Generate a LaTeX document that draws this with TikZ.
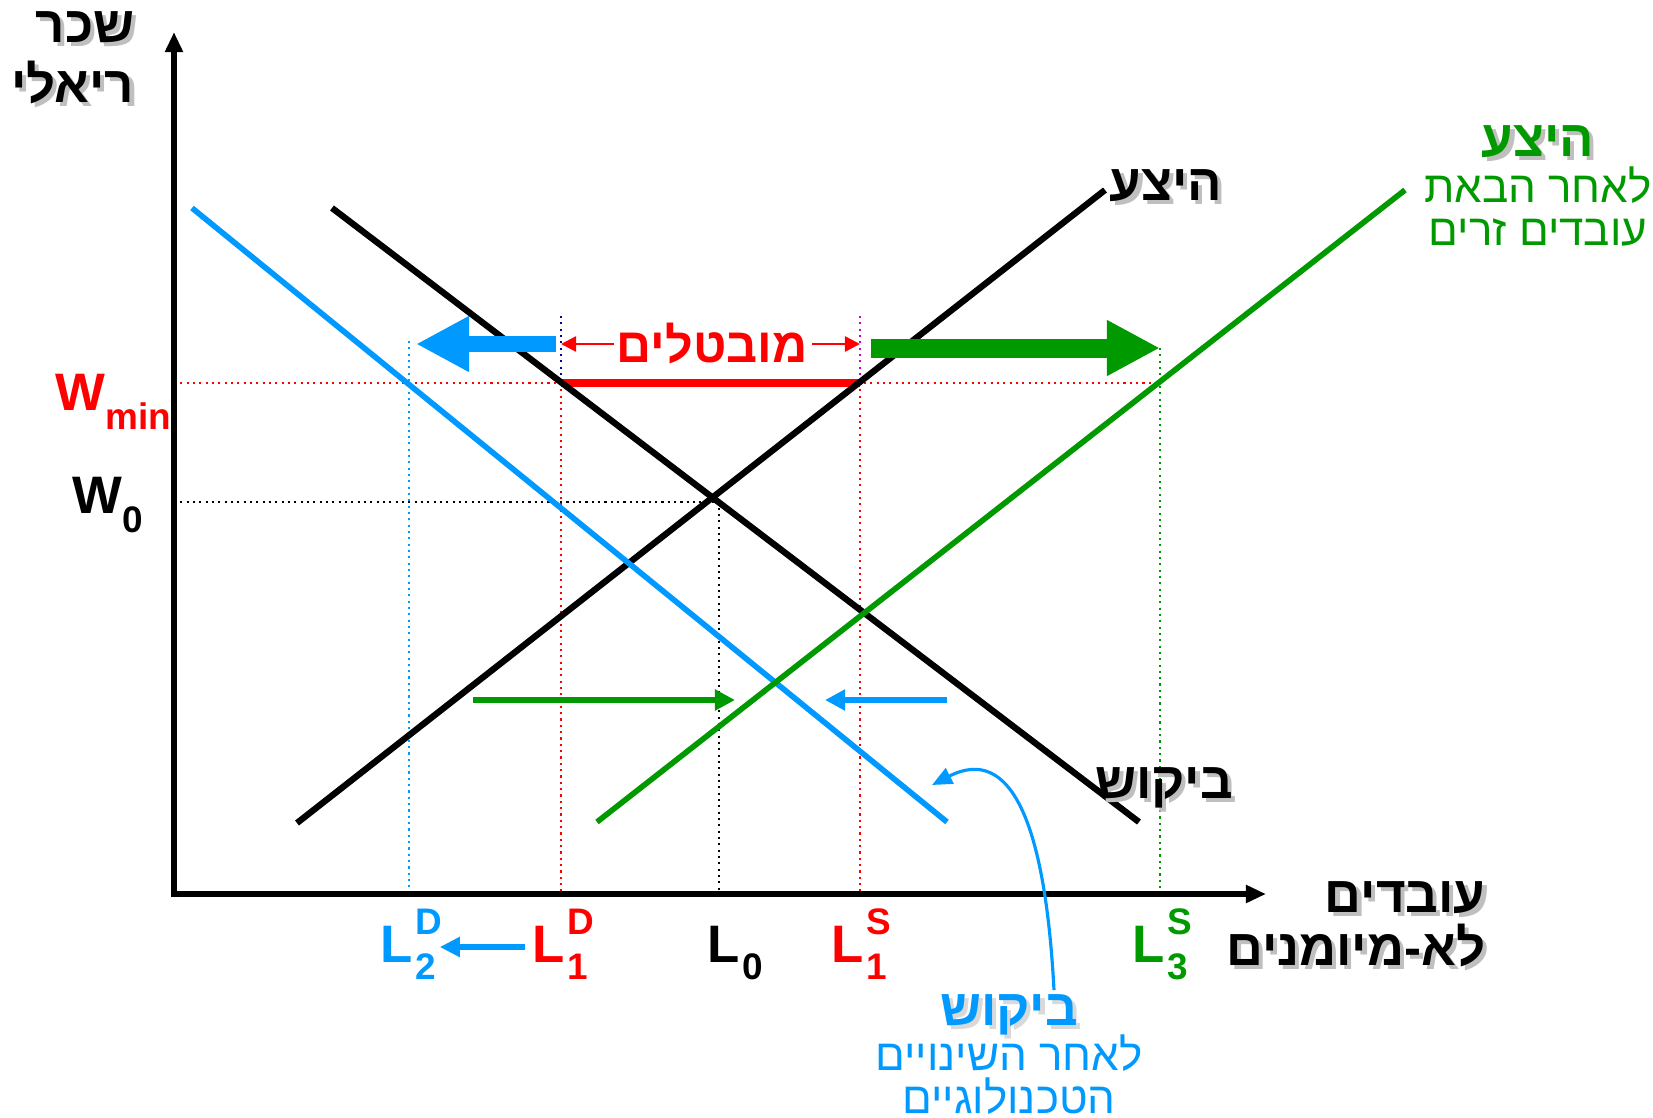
\documentclass[tikz,border=0pt]{standalone}
\usepackage{fontspec}
\setmainfont{Liberation Sans}
\newfontfamily\hebfont[Script=Hebrew]{Liberation Sans}
\TeXXeTstate=1
\usetikzlibrary{arrows.meta, positioning}

\definecolor{dblue}{RGB}{0,153,255}
\definecolor{dgreen}{RGB}{0,153,0}
\definecolor{dred}{RGB}{255,0,0}
\definecolor{dnavy}{RGB}{0,0,160}
\definecolor{dpurple}{RGB}{200,0,200}

% hebrew text with a soft drop shadow
\newcommand\shd[2][gray!50]{\leavevmode\rlap{\kern1.2pt\raisebox{-1.2pt}{\textcolor{#1}{\beginR #2\endR}}}\beginR #2\endR}
\newcommand\rtl[1]{\beginR #1\endR}
\newcommand\subsz{\fontsize{10.5}{12}\selectfont\bfseries}
\newcommand\Lab[2]{L\kern0.6pt\rlap{\raisebox{7.8pt}{\subsz #2}}\raisebox{-5pt}{\subsz #1}}

\begin{document}
\begin{tikzpicture}[x=0.01cm, y=-0.01cm,
  curve/.style={line width=1.8pt},
  guide/.style={line width=0.6pt, dash pattern=on 0.6pt off 1.2pt},
  ttl/.style={font=\hebfont\fontsize{14.5}{17}\selectfont\bfseries, inner sep=0pt, anchor=base},
  sub/.style={font=\hebfont\fontsize{12.5}{14}\selectfont, inner sep=0pt, anchor=base},
  lbl/.style={font=\fontsize{15}{18}\selectfont\bfseries, inner sep=0pt, anchor=base west},
  fatarr/.style={-{Triangle[length=0.53cm, width=0.52cm]}},
  midarr/.style={line width=1.5pt, -{Triangle[length=0.2cm, width=0.2cm]}},
  smallarr/.style={line width=0.7pt, -{Triangle[length=0.15cm, width=0.15cm]}}
]
\useasboundingbox (0,0) rectangle (1653,1117);

% axes
\coordinate (O) at (174,894);
\coordinate (ytop) at (174,32);
\coordinate (xend) at (1266,894);

% key points
\coordinate (E) at (719,502);
\coordinate (wminA) at (174,383);
\coordinate (w0A) at (174,502);
\coordinate (l2top) at (409,341);
\coordinate (l2bot) at (409,894);
\coordinate (l1dtop) at (561,316);
\coordinate (l1dmid) at (561,383);
\coordinate (l1dbot) at (561,894);
\coordinate (l1stop) at (860,316);
\coordinate (l1smid) at (860,383);
\coordinate (l1sbot) at (860,894);
\coordinate (l3top) at (1160,348);
\coordinate (l3mid) at (1160,383);
\coordinate (l3bot) at (1160,894);
\coordinate (l0bot) at (719,894);

% dotted guides
\draw[guide, dred] (wminA) -- (l3mid);
\draw[guide] (w0A) -- (E) -- (l0bot);
\draw[guide, dblue] (l2top) -- (l2bot);
\draw[guide, dnavy] (l1dtop) -- (l1dmid);
\draw[guide, dred] (l1dmid) -- (l1dbot);
\draw[guide, dpurple] (l1stop) -- (l1smid);
\draw[guide, dred] (l1smid) -- (l1sbot);
\draw[guide, dgreen] (l3top) -- (l3bot);
\draw[dred, line width=2.4pt] (l1dmid) -- (l1smid);

% curves
\coordinate (s0a) at (297,823);  \coordinate (s0b) at (1105,190);
\coordinate (d0a) at (332,208);  \coordinate (d0b) at (1139,822);
\coordinate (d2a) at (192,208);  \coordinate (d2b) at (947,822);
\coordinate (s3a) at (597,822);  \coordinate (s3b) at (1405,190);
\draw[curve] (s0a) -- (s0b);
\draw[curve] (d0a) -- (d0b);
\draw[curve, dblue, line width=1.6pt] (d2a) -- (d2b);
\draw[curve, dgreen, line width=1.6pt] (s3a) -- (s3b);

\draw[line width=1.8pt, -{Triangle[length=0.2cm, width=0.17cm]}] (O) -- (ytop);
\draw[line width=1.8pt, -{Triangle[length=0.2cm, width=0.17cm]}] ([xshift=-0.9pt]O) -- (xend);

% shift arrows
\coordinate (bA) at (556,344);  \coordinate (bB) at (416,344);
\coordinate (gA) at (871,348);  \coordinate (gB) at (1160,348);
\draw[fatarr, dblue, line width=4.8pt] (bA) -- (bB);
\draw[fatarr, dgreen, line width=5.4pt] (gA) -- (gB);

\node[ttl, dred, font=\hebfont\fontsize{13.8}{17}\selectfont\bfseries] (unemp) at (712,362) {\rtl{מובטלים}};
\coordinate (uL) at (614,344); \coordinate (uR) at (812,344);
\draw[smallarr, dred] (uL) -- (l1dtop |- uL);
\draw[smallarr, dred] (uR) -- (l1stop |- uR);

\coordinate (mgA) at (473,700); \coordinate (mgB) at (735,700);
\coordinate (mbA) at (947,700); \coordinate (mbB) at (825,700);
\draw[midarr, dgreen] (mgA) -- (mgB);
\draw[midarr, dblue] (mbA) -- (mbB);

% axis labels
\node[ttl, anchor=base east] (wage1) at (135,42) {\shd{שכר}};
\node[ttl, anchor=base east] (wage2) at (135,102) {\shd{ריאלי}};
\node[ttl, anchor=base east] (work1) at (1486,912) {\shd{עובדים}};
\node[ttl, anchor=base east] (work2) at (1486,965) {\shd{לא-מיומנים}};

\node[lbl, dred] (wmin) at (55,410) {W\raisebox{-5.5pt}{\subsz min}};
\node[lbl] (w0) at (72,513) {W\raisebox{-5.5pt}{\subsz 0}};

\node[lbl, dblue] (l2d) at (380,962) {\Lab{2}{D}};
\node[lbl, dred] (l1d) at (532,962) {\Lab{1}{D}};
\node[lbl] (l0) at (707,962) {L\kern0.6pt\raisebox{-5pt}{\subsz 0}};
\node[lbl, dred] (l1s) at (831,962) {\Lab{1}{S}};
\node[lbl, dgreen] (l3s) at (1132,962) {\Lab{3}{S}};
\draw[dblue, line width=1.6pt, -{Triangle[length=0.2cm, width=0.19cm]}] ([xshift=-2pt]l1d.west |- 0,947) -- ([xshift=1pt]l2d.east |- 0,947);

% curve names
\node[ttl] (sup0) at (1166,200) {\shd{היצע}};
\node[ttl] (dem0) at (1164,798) {\shd{ביקוש}};
\node[ttl, dgreen] (sup3) at (1538,156) {\shd{היצע}};
\node[sub, dgreen] (sup3b) at (1538,202) {\rtl{לאחר הבאת}};
\node[sub, dgreen] (sup3c) at (1538,245) {\rtl{עובדים זרים}};
\node[ttl, dblue] (dem2) at (1009,1025) {\shd[gray!30]{ביקוש}};
\node[sub, dblue] (dem2b) at (1009,1070) {\rtl{לאחר השינויים}};
\node[sub, dblue] (dem2c) at (1009,1113) {\rtl{הטכנולוגיים}};

\coordinate (cb) at (1054,990);
\coordinate (ct) at (932,785);
\draw[dblue, line width=0.9pt, -{Triangle[length=0.2cm, width=0.17cm]}] (cb) .. controls (1045,820) and (1010,745) .. (ct);
\end{tikzpicture}
\end{document}
